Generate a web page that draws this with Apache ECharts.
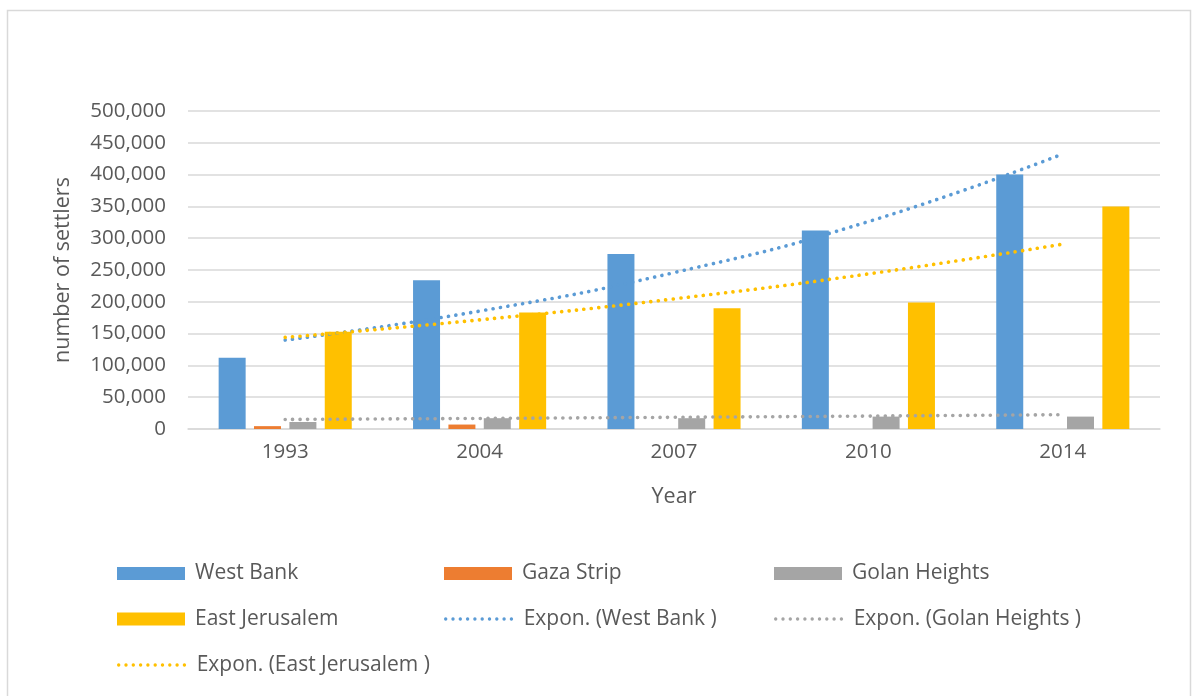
<!DOCTYPE html>
<html>
<head>
<meta charset="utf-8">
<script src="https://cdn.jsdelivr.net/npm/echarts@6/dist/echarts.min.js"></script>
<style>
html,body{margin:0;padding:0;background:#fff;}
#chart{width:1192px;height:696px;}
</style>
</head>
<body>
<div id="chart"></div>
<script>
// ---- Data ----
const years = ['1993', '2004', '2007', '2010', '2014'];
const westBank = [112000, 234000, 275000, 312000, 400000];
const gazaStrip = [4500, 7000, 0, 0, 0];
const golanHeights = [11000, 17000, 17000, 19500, 19500];
const eastJerusalem = [153000, 183000, 190000, 199000, 350000];
// Exponential trendline values at each category
const trendWestBank = [139800, 185400, 245900, 326100, 432500];
const trendGolan = [15000, 16600, 18400, 20300, 22500];
const trendEastJerusalem = [144000, 171600, 204600, 243900, 290700];
const yTicks = { min: 0, max: 500000, interval: 50000 };

const FONT = '"Open Sans", "Noto Sans", sans-serif';
const TXT = '#595959';
const C_BLUE = '#5B9BD5', C_ORANGE = '#ED7D31', C_GRAY = '#A5A5A5', C_YELLOW = '#FFC000';

function fmt(v) { return String(v).replace(/\B(?=(\d{3})+(?!\d))/g, ','); }

const chart = echarts.init(document.getElementById('chart'), null, { renderer: 'canvas' });

const dotted = (color) => ({ color: color, width: 3.6, type: [0.1, 7.4], cap: 'round' });

function legendItem(name, left, top, isLine, color) {
  const l = {
    data: [name],
    left: left, top: top,
    padding: 0,
    orient: 'horizontal',
    itemWidth: 68, itemHeight: 13,
    selectedMode: false,
    textStyle: { fontFamily: FONT, fontSize: 21, color: TXT, lineHeight: 24, padding: [0, 0, 0, 5] }
  };
  if (!isLine) {
    l.icon = 'rect';
  } else {
    l.itemStyle = { opacity: 0, borderWidth: 0 };
    l.lineStyle = { color: color, width: 3.3, type: [0.1, 7.2], cap: 'round', opacity: 1 };
  }
  return l;
}

const option = {
  backgroundColor: '#fff',
  animation: false,
  textStyle: { fontFamily: FONT },
  graphic: [{
    type: 'rect',
    shape: { x: 7.5, y: 10.5, width: 1183, height: 700 },
    style: { fill: 'none', stroke: '#D9D9D9', lineWidth: 1.5 },
    silent: true
  }],
  grid: { left: 188, right: 32, top: 111, bottom: 267, containLabel: false },
  legend: [
    legendItem('West Bank', 117, 561.5, false),
    legendItem('Gaza Strip', 444, 561.5, false),
    legendItem('Golan Heights', 774, 561.5, false),
    legendItem('East Jerusalem', 117, 607, false),
    legendItem('Expon. (West Bank )', 444, 607, true, C_BLUE),
    legendItem('Expon. (Golan Heights )', 774, 607, true, C_GRAY),
    legendItem('Expon. (East Jerusalem )', 117, 653, true, C_YELLOW)
  ],
  xAxis: {
    type: 'category',
    data: years,
    name: 'Year',
    nameLocation: 'middle',
    nameGap: 57,
    nameTextStyle: { fontFamily: FONT, fontSize: 21.5, color: TXT },
    axisLine: { show: true, lineStyle: { color: '#D9D9D9', width: 1.5 } },
    axisTick: { show: false },
    axisLabel: { fontFamily: FONT, fontSize: 20.5, color: TXT, margin: 13 },
    splitLine: { show: false }
  },
  yAxis: {
    type: 'value',
    min: yTicks.min, max: yTicks.max, interval: yTicks.interval,
    name: 'number of settlers',
    nameLocation: 'middle',
    nameGap: 114,
    nameRotate: 90,
    nameTextStyle: { fontFamily: FONT, fontSize: 21.5, color: TXT },
    axisLine: { show: false },
    axisTick: { show: false },
    axisLabel: { fontFamily: FONT, fontSize: 20.5, color: TXT, margin: 22, formatter: fmt },
    splitLine: { show: true, lineStyle: { color: '#D9D9D9', width: 1.5 } }
  },
  series: [
    { name: 'West Bank', type: 'bar', data: westBank, barWidth: 27, barGap: '31%', itemStyle: { color: C_BLUE } },
    { name: 'Gaza Strip', type: 'bar', data: gazaStrip, barWidth: 27, barGap: '31%', itemStyle: { color: C_ORANGE } },
    { name: 'Golan Heights', type: 'bar', data: golanHeights, barWidth: 27, barGap: '31%', itemStyle: { color: C_GRAY } },
    { name: 'East Jerusalem', type: 'bar', data: eastJerusalem, barWidth: 27, barGap: '31%', itemStyle: { color: C_YELLOW } },
    { name: 'Expon. (West Bank )', type: 'line', data: trendWestBank, smooth: true, symbol: 'none', lineStyle: dotted(C_BLUE), itemStyle: { color: C_BLUE }, z: 5 },
    { name: 'Expon. (Golan Heights )', type: 'line', data: trendGolan, smooth: true, symbol: 'none', lineStyle: dotted(C_GRAY), itemStyle: { color: C_GRAY }, z: 5 },
    { name: 'Expon. (East Jerusalem )', type: 'line', data: trendEastJerusalem, smooth: true, symbol: 'none', lineStyle: dotted(C_YELLOW), itemStyle: { color: C_YELLOW }, z: 5 }
  ]
};

chart.setOption(option);
</script>
</body>
</html>
